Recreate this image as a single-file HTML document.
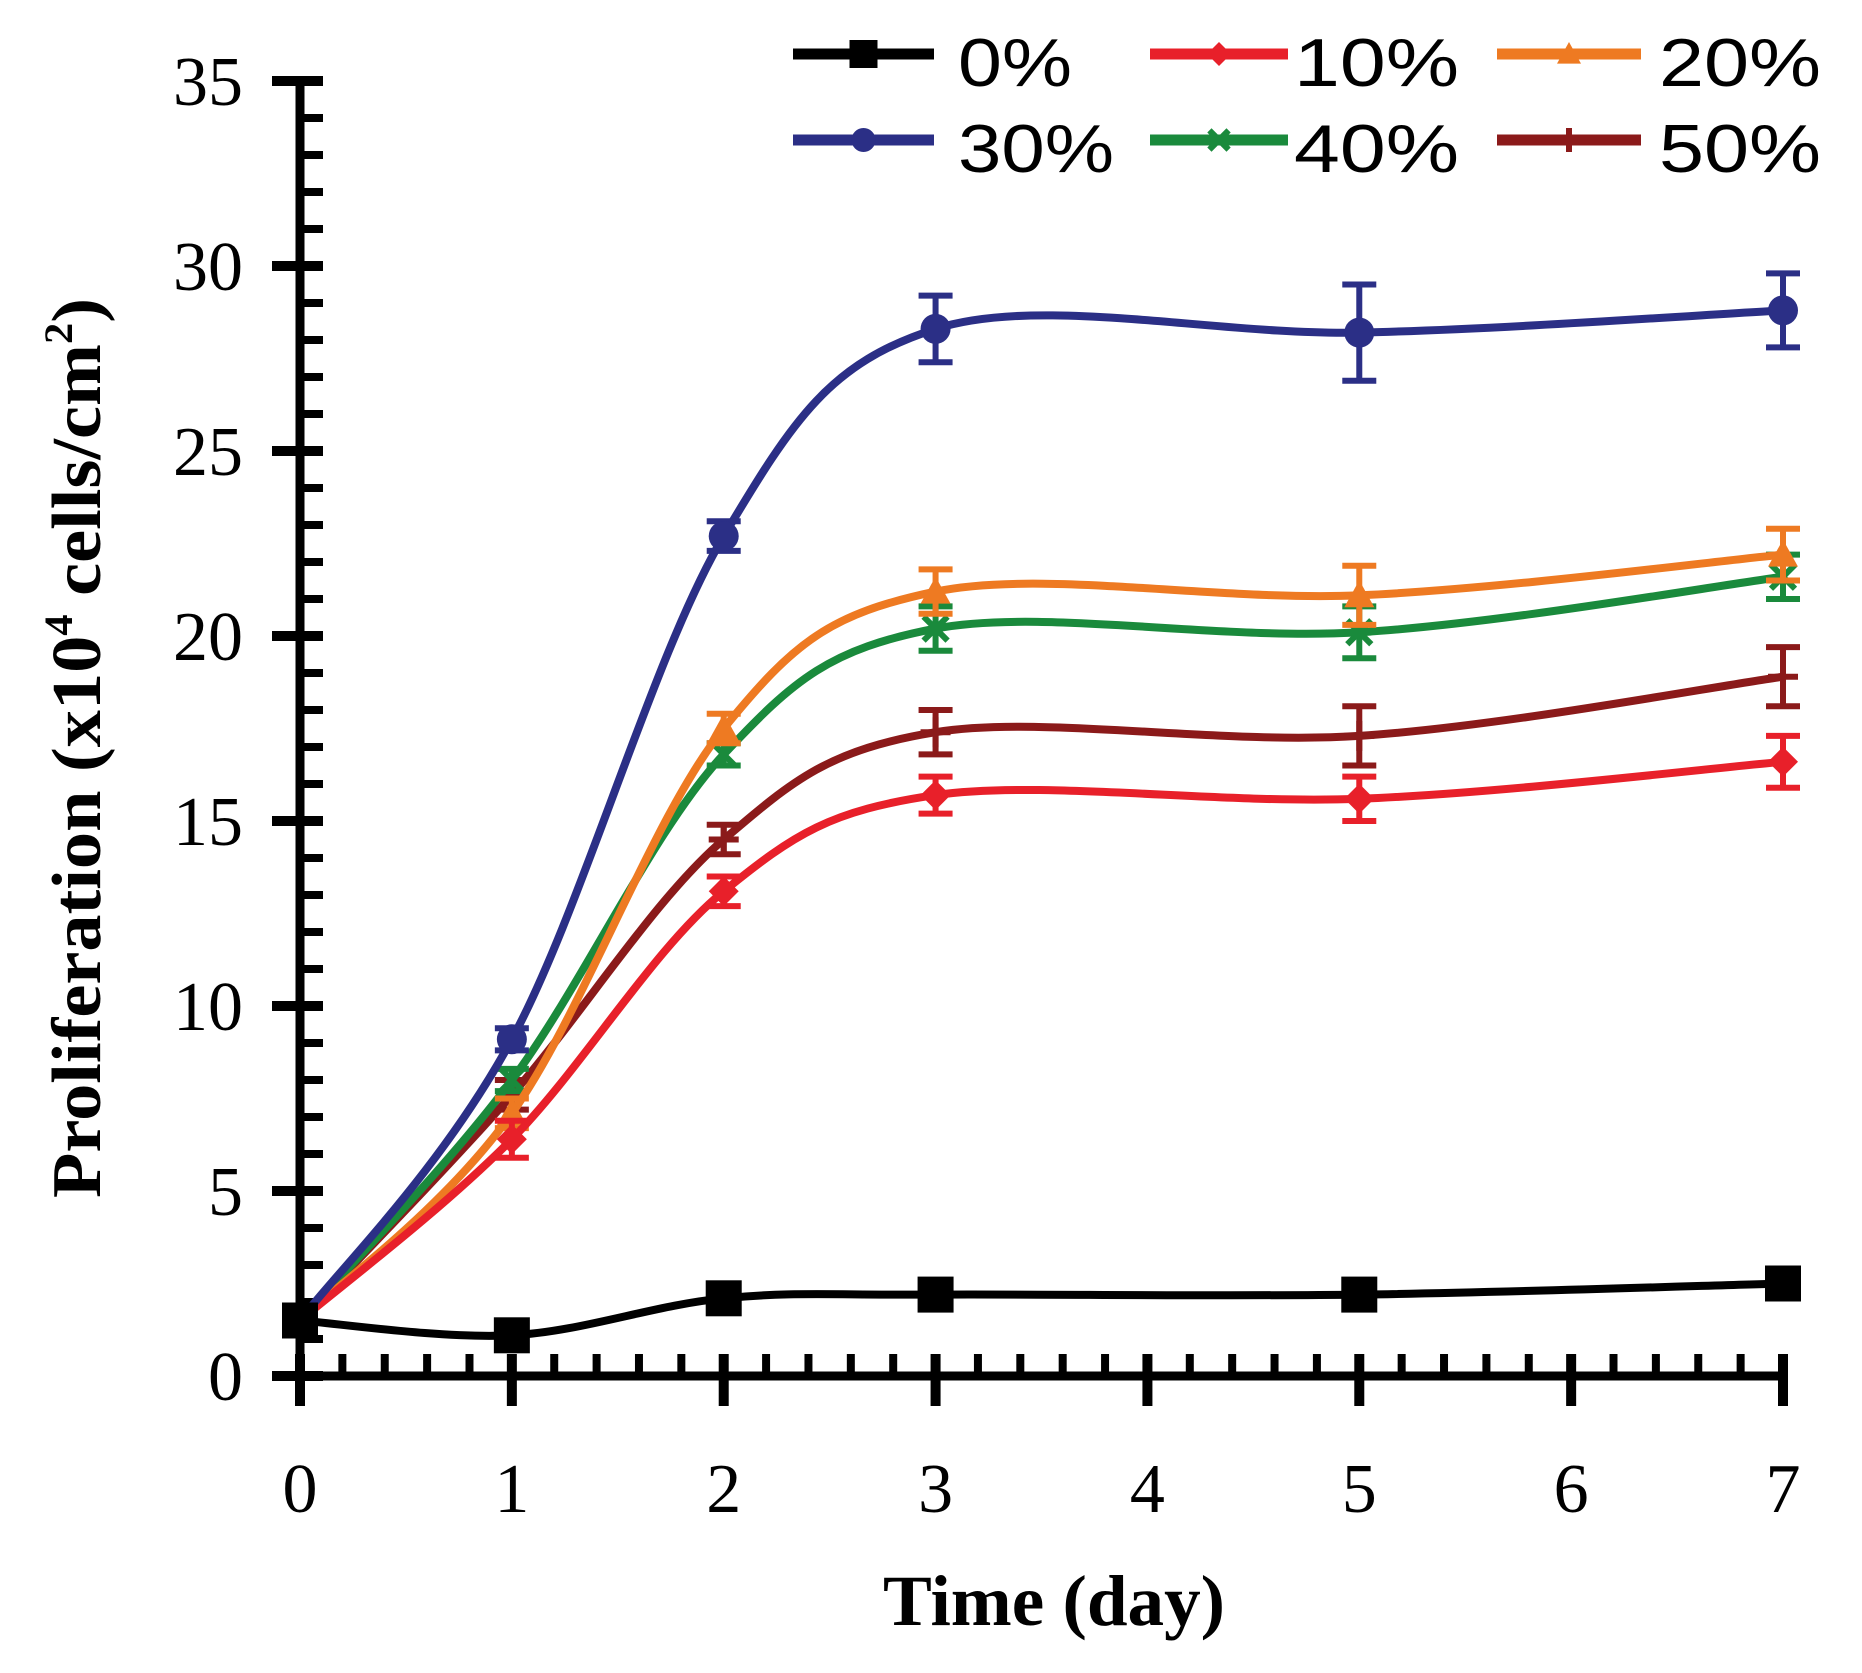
<!DOCTYPE html>
<html><head><meta charset="utf-8"><style>
html,body{margin:0;padding:0;background:#fff;}
svg{display:block;}
</style></head><body>
<svg id="chart" width="1862" height="1673" viewBox="0 0 1862 1673" xmlns="http://www.w3.org/2000/svg">
<g id="axes"></g>
<g id="series"></g>
<g id="legend"></g>
<text x="1054" y="1625" text-anchor="middle" font-family="Liberation Serif, serif" font-weight="bold" font-size="72" textLength="342" lengthAdjust="spacingAndGlyphs">Time (day)</text>
<text transform="translate(100,748) rotate(-90)" text-anchor="middle" font-family="Liberation Serif, serif" font-weight="bold" font-size="70" textLength="900" lengthAdjust="spacingAndGlyphs">Proliferation (x10<tspan dy="-28" font-size="40">4</tspan><tspan dy="28"> cells/cm</tspan><tspan dy="-28" font-size="40">2</tspan><tspan dy="28">)</tspan></text>
</svg>
<script>
const days = [0, 1, 2, 3, 5, 7];
const xTicks = [0, 1, 2, 3, 4, 5, 6, 7];
const yTicks = [0, 5, 10, 15, 20, 25, 30, 35];
const seriesNames = ["0%", "10%", "20%", "30%", "40%", "50%"];
const v0 = [1.5, 1.1, 2.1, 2.2, 2.2, 2.5];
const v10 = [1.5, 6.4, 13.1, 15.7, 15.6, 16.6];
const v20 = [1.5, 7.1, 17.5, 21.2, 21.1, 22.2];
const v30 = [1.5, 9.1, 22.7, 28.3, 28.2, 28.8];
const v40 = [1.5, 8.0, 16.8, 20.2, 20.1, 21.6];
const v50 = [1.5, 7.6, 14.5, 17.4, 17.3, 18.9];
const e0 = [0, 0, 0, 0, 0, 0];
const e10 = [0.3, 0.5, 0.4, 0.5, 0.6, 0.7];
const e20 = [0.3, 0.4, 0.4, 0.6, 0.8, 0.7];
const e30 = [0.3, 0.3, 0.4, 0.9, 1.3, 1.0];
const e40 = [0.3, 0.3, 0.3, 0.6, 0.7, 0.6];
const e50 = [0.3, 0.4, 0.4, 0.6, 0.8, 0.8];

const NS = "http://www.w3.org/2000/svg";
const X0 = 300, X7 = 1783, Y0 = 1376, Y35 = 81;
const xs = d => X0 + (X7 - X0) * d / 7;
const ys = v => Y0 - (Y0 - Y35) * v / 35;
function mk(tag, attrs, parent) {
  const el = document.createElementNS(NS, tag);
  for (const k in attrs) el.setAttribute(k, attrs[k]);
  parent.appendChild(el);
  return el;
}
const axes = document.getElementById('axes');
let yl = mk('line', {x1: X0, y1: Y0 + 4, x2: X0, y2: Y35, stroke: '#000', 'stroke-width': 9}, axes);


let xl = mk('line', {x1: X0 - 28, y1: Y0, x2: X7 + 4, y2: Y0, stroke: '#000', 'stroke-width': 9}, axes);


for (let v = 0; v <= 35; v++) {
  const y = ys(v);
  const major = v % 5 === 0;
  const t = mk('line', {x1: major ? X0 - 28 : X0, y1: y, x2: X0 + 23, y2: y, stroke: '#000', 'stroke-width': major ? 10 : 8}, axes);
  
  
}
yTicks.forEach(v => {
  const t = mk('text', {x: 243, y: ys(v) + 24, 'text-anchor': 'end', 'font-family': 'Liberation Serif, serif', 'font-size': 70}, axes);
  t.textContent = v;
  
  
});
for (let i = 0; i <= 35; i++) {
  const d = i / 5;
  const x = xs(d);
  const major = i % 5 === 0;
  const t = mk('line', {x1: x, y1: Y0 - 22, x2: x, y2: major ? Y0 + 30 : Y0, stroke: '#000', 'stroke-width': major ? 10 : 8}, axes);
  
  
}
xTicks.forEach(d => {
  const t = mk('text', {x: xs(d), y: 1512, 'text-anchor': 'middle', 'font-family': 'Liberation Serif, serif', 'font-size': 70}, axes);
  t.textContent = d;
  
  
});

const colors = ['#000000', '#e8202a', '#ee7a22', '#2b2f86', '#1a8a3c', '#8b1a1a'];
const vals = [v0, v10, v20, v30, v40, v50];
const errs = [e0, e10, e20, e30, e40, e50];
const markers = ['square', 'diamond', 'triangle', 'circle', 'cross', 'plus'];

function splinePath(pts) {
  let d = `M${pts[0][0]},${pts[0][1]}`;
  for (let i = 0; i < pts.length - 1; i++) {
    const p0 = pts[Math.max(0, i - 1)], p1 = pts[i], p2 = pts[i + 1], p3 = pts[Math.min(pts.length - 1, i + 2)];
    const c1x = p1[0] + (p2[0] - p0[0]) / 6, c1y = p1[1] + (p2[1] - p0[1]) / 6;
    const c2x = p2[0] - (p3[0] - p1[0]) / 6, c2y = p2[1] - (p3[1] - p1[1]) / 6;
    d += ` C${c1x},${c1y} ${c2x},${c2y} ${p2[0]},${p2[1]}`;
  }
  return d;
}
function marker(type, x, y, color, parent, s) {
  let el;
  if (type === 'square') el = mk('rect', {x: x - s, y: y - s, width: 2 * s, height: 2 * s, fill: color}, parent);
  else if (type === 'circle') el = mk('circle', {cx: x, cy: y, r: s, fill: color}, parent);
  else if (type === 'diamond') el = mk('polygon', {points: `${x},${y - s} ${x + s},${y} ${x},${y + s} ${x - s},${y}`, fill: color}, parent);
  else if (type === 'triangle') el = mk('polygon', {points: `${x},${y - s} ${x + s},${y + s * 0.8} ${x - s},${y + s * 0.8}`, fill: color}, parent);
  else if (type === 'cross') el = mk('path', {d: `M${x - s * 0.8},${y - s * 0.8}L${x + s * 0.8},${y + s * 0.8}M${x + s * 0.8},${y - s * 0.8}L${x - s * 0.8},${y + s * 0.8}`, stroke: color, 'stroke-width': 6}, parent);
  else el = mk('path', {d: `M${x - s},${y}L${x + s},${y}M${x},${y - s}L${x},${y + s}`, stroke: color, 'stroke-width': 6}, parent);
  return el;
}
const sg = document.getElementById('series');
const order = [5, 4, 2, 1, 3, 0];
order.forEach(si => {
  const g = mk('g', {}, sg);
  
  
  const pts = days.map((d, i) => [xs(d), ys(vals[si][i])]);
  const p = mk('path', {d: splinePath(pts), fill: 'none', stroke: colors[si], 'stroke-width': 8}, g);
  
  
  days.forEach((d, i) => {
    const e = errs[si][i];
    if (e > 0) {
      const x = xs(d), yt = ys(vals[si][i] + e), yb = ys(vals[si][i] - e);
      const eb = mk('path', {d: `M${x},${yt}L${x},${yb}M${x - 17},${yt}L${x + 17},${yt}M${x - 17},${yb}L${x + 17},${yb}`, stroke: colors[si], 'stroke-width': 6, fill: 'none'}, g);
      
      
    }
    const m = marker(markers[si], xs(d), ys(vals[si][i]), colors[si], g, markers[si] === 'square' ? 18 : 15);
    
    
  });
});

const lg = document.getElementById('legend');
const lx = [793, 1150, 1497];
const lw = [141, 138, 144];
const tx = [958, 1294, 1659];
const ly = [54, 140];
const tw = [[114, 165, 162], [156, 165, 162]];
seriesNames.forEach((n, si) => {
  const r = Math.floor(si / 3), c = si % 3;
  const g = mk('g', {}, lg);
  
  
  const l = mk('line', {x1: lx[c], y1: ly[r], x2: lx[c] + lw[c], y2: ly[r], stroke: colors[si], 'stroke-width': 11}, g);
  
  
  const m = marker(markers[si], lx[c] + lw[c] / 2, ly[r], colors[si], g, markers[si] === 'square' ? 14 : 12);
  
  
  const t = mk('text', {x: tx[c], y: ly[r] + 32, 'font-family': 'Liberation Sans, sans-serif', 'font-size': 68, textLength: tw[r][c], lengthAdjust: 'spacingAndGlyphs'}, g);
  t.textContent = n;
  
  
});
</script>
</body></html>
